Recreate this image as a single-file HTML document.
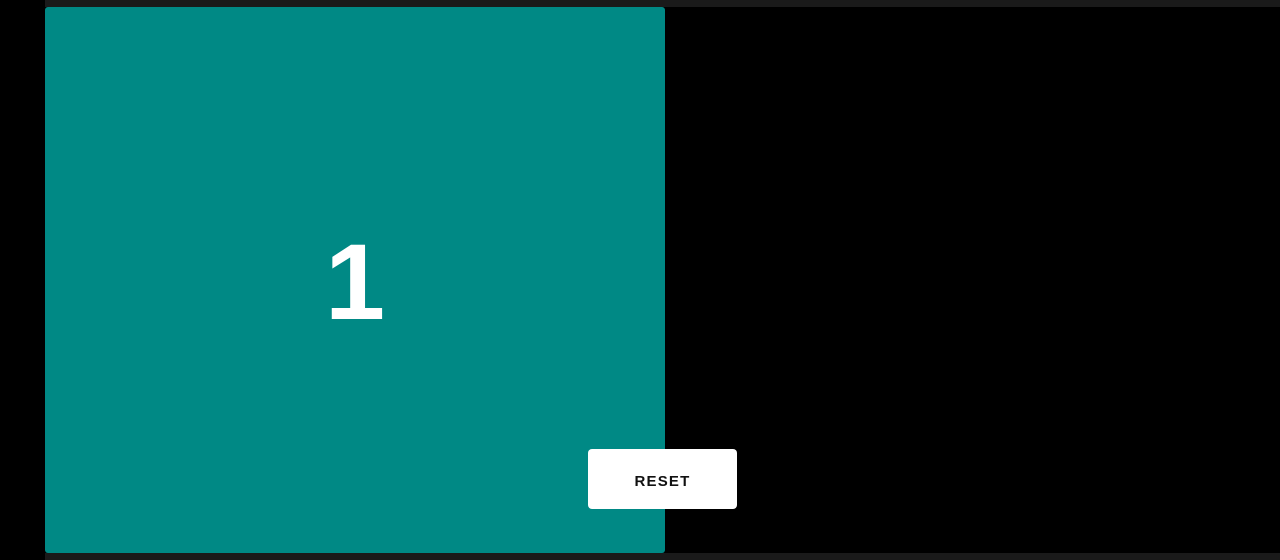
<!DOCTYPE html>
<html><head><meta charset="utf-8"><style>
html,body{margin:0;padding:0;background:#000;width:1280px;height:560px;overflow:hidden;font-family:"Liberation Sans",sans-serif}
.band{position:absolute;left:45px;width:1235px;height:7px;background:#1a1a1a}
#card{position:absolute;left:45px;top:7px;width:620px;height:546px;background:#008985;border-radius:3px;display:flex;align-items:center;justify-content:center;color:#fff;font-weight:bold;font-size:108px;line-height:1}
#reset{position:absolute;left:588px;top:449px;width:149px;height:60px;background:#fff;border-radius:4px;border:none;color:#111;font-weight:bold;font-size:15px;letter-spacing:1.2px;display:flex;align-items:center;justify-content:center}
</style></head><body>
<div class="band" style="top:0"></div>
<div class="band" style="top:553px"></div>
<div id="card"><span style="margin-top:4px">1</span></div>
<div id="reset"><span style="margin-top:4px">RESET</span></div>
</body></html>
